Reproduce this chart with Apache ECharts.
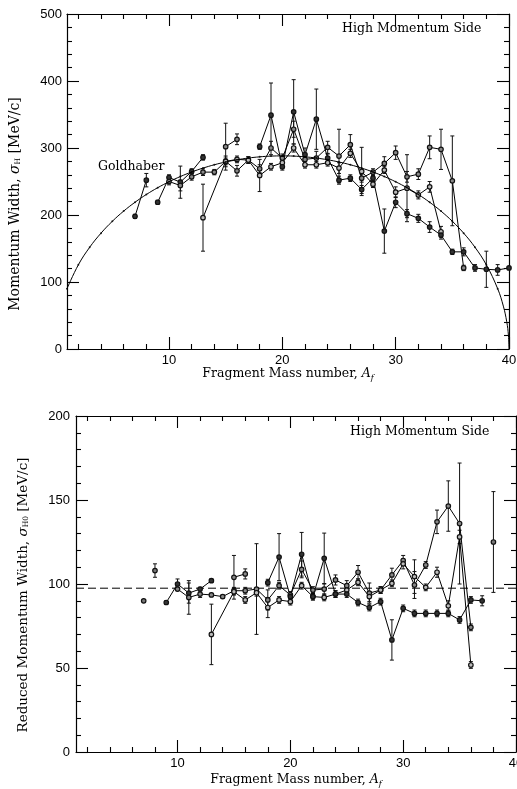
<!DOCTYPE html>
<html>
<head>
<meta charset="utf-8">
<script src="https://cdn.jsdelivr.net/npm/echarts@6/dist/echarts.min.js"></script>
<style>
  html, body { margin: 0; padding: 0; background: #fff; }
  #chart { width: 517px; height: 789px; }
</style>
</head>
<body>
<div id="chart"></div>
<script>
// ---- axis ticks ----
const xMajor = [10, 20, 30, 40];
const xMinor = [2, 4, 6, 8, 12, 14, 16, 18, 22, 24, 26, 28, 32, 34, 36, 38];

// ---- momentum width sigma_H [MeV/c] vs fragment mass number ----
const hA0 = [7, 8];
const hV0 = [198, 252];
const hE0 = [3, 10];

const hA1 = [9, 10, 11, 12, 13];
const hV1 = [219, 256, 249, 265, 286];
const hE1 = [3, 4, 24, 4, 4];

const hA2 = [10, 11, 12, 13, 14, 15, 16, 17, 18, 19, 20, 21, 22, 23, 24, 25, 26, 27, 28, 29, 30, 31, 32, 33, 34, 35, 36];
const hV2 = [250, 244, 257, 264, 264, 280, 266, 282, 269, 300, 285, 328, 283, 285, 301, 288, 305, 255, 264, 277, 293, 257, 261, 301, 298, 251, 121];
const hE2 = [5, 8, 5, 5, 4, 8, 8, 5, 6, 10, 6, 12, 6, 10, 9, 40, 15, 6, 5, 10, 10, 8, 8, 17, 30, 67, 4];

const hA3 = [13, 15, 16, 17, 18, 19, 20, 21, 22, 23, 24, 25, 26, 27, 28, 29, 30, 31, 32, 33, 34];
const hV3 = [196, 280, 283, 282, 259, 272, 278, 300, 275, 275, 278, 270, 292, 265, 246, 267, 234, 240, 230, 242, 175];
const hE3 = [50, 5, 5, 5, 24, 5, 5, 6, 5, 5, 5, 8, 6, 36, 5, 5, 8, 50, 6, 8, 8];

const hA4 = [15, 16];
const hV4 = [302, 313];
const hE4 = [35, 8];

const hA5 = [18, 19, 20, 21, 22, 23, 24, 25, 26, 27, 28, 29, 30, 31, 32, 33, 34, 35, 36, 37, 38, 39, 40];
const hV5 = [302, 349, 272, 354, 290, 343, 285, 252, 255, 238, 255, 176, 219, 202, 195, 182, 170, 145, 145, 121, 119, 118, 121];
const hE5 = [4, 48, 5, 48, 10, 45, 6, 6, 5, 6, 5, 33, 8, 6, 6, 8, 6, 4, 6, 5, 27, 8, 0];

// Goldhaber systematics for a mass-40 projectile
const goldA = [1, 2, 3, 4, 5, 6, 7, 8, 9, 10, 11, 12, 13, 14, 15, 16, 17, 18, 19, 20,
               21, 22, 23, 24, 25, 26, 27, 28, 29, 30, 31, 32, 33, 34, 35, 36, 37, 38, 39, 39.5, 39.8, 39.95, 40];
const goldV = [90, 125.6, 151.8, 172.9, 190.6, 205.8, 219.0, 230.6, 240.7, 249.6, 257.4, 264.2, 270, 275.0, 279.1, 282.4, 285.0, 286.8, 287.9, 288.2,
               287.9, 286.8, 285.0, 282.4, 279.1, 275.0, 270, 264.2, 257.4, 249.6, 240.7, 230.6, 219.0, 205.8, 190.6, 172.9, 151.8, 125.6, 90, 64.0, 40.7, 20.4, 0];

// ---- reduced momentum width sigma_H0 [MeV/c] ----
const rA0 = [7, 8, 38];
const rV0 = [90, 108, 125];
const rE0 = [0, 4, 30];

const rA1 = [9, 10, 11, 12, 13];
const rV1 = [89, 100, 94.6, 97, 102];
const rE1 = [1, 3, 6, 1, 1];

const rA2 = [10, 11, 12, 13, 14, 15, 16, 17, 18, 19, 20, 21, 22, 23, 24, 25, 26, 27, 28, 29, 30, 31, 32, 33, 34, 35, 36];
const rV2 = [97, 92, 94, 93.5, 92.5, 96, 96, 97, 90.5, 99, 93.5, 108.7, 96.4, 97, 102.4, 99, 107, 94.6, 96.4, 105.4, 114, 99.4, 111.3, 137, 146.4, 136, 74.2];
const rE2 = [1, 10, 2, 1, 1, 2, 2, 27, 6, 2, 2, 5, 2, 3, 3, 3, 4, 6, 2, 4, 3, 8, 2, 7, 15, 36, 2];

const rA3 = [13, 15, 16, 17, 18, 19, 20, 21, 22, 23, 24, 25, 26, 27, 28, 29, 30, 31, 32, 33, 34, 35, 36];
const rV3 = [70, 95.4, 90.5, 94.8, 86, 90.5, 89.5, 99, 92.5, 92, 94, 96.4, 101, 92.5, 96.4, 100.4, 112, 104.4, 98, 107, 87, 128, 51.8];
const rE3 = [18, 2, 2, 2, 6, 2, 2, 2, 2, 2, 2, 2, 2, 3, 2, 2, 3, 10, 2, 3, 3, 4, 2];

const rA4 = [15, 16];
const rV4 = [104, 106];
const rE4 = [13, 3];

const rA5 = [18, 19, 20, 21, 22, 23, 24, 25, 26, 27, 28, 29, 30, 31, 32, 33, 34, 35, 36, 37];
const rV5 = [100.8, 116, 92.5, 117.7, 92.5, 115.3, 94, 94, 89, 86, 89.5, 66.7, 85.5, 82.5, 82.5, 82.5, 82.5, 78.6, 90.5, 90];
const rE5 = [2, 14, 2, 13, 2, 15, 2, 2, 2, 2, 2, 12, 2, 2, 2, 2, 2, 2, 2, 3];

const refWidth = 97.5;

// ---- styling ----
const SERIF = '"DejaVu Serif", "Liberation Serif", serif';
const SANS = '"Liberation Sans", Arial, sans-serif';
const INK = '#000';

function xAxesFor(grid) {
  const base = { type: 'value', gridIndex: grid, min: 1, max: 40, splitLine: { show: false } };
  const tickStyle = { color: INK, width: 1.1 };
  return [
    Object.assign({}, base, {
      position: 'bottom',
      axisLine: { show: true, lineStyle: { color: INK, width: 1.2 } },
      axisTick: { show: true, inside: true, length: 12, customValues: xMajor, lineStyle: tickStyle },
      axisLabel: { show: true, customValues: xMajor, margin: 5, fontFamily: SANS, fontSize: 13, color: INK }
    }),
    Object.assign({}, base, {
      position: 'bottom',
      axisLine: { show: false },
      axisTick: { show: true, inside: true, length: 5, customValues: xMinor, lineStyle: tickStyle },
      axisLabel: { show: false }
    }),
    Object.assign({}, base, {
      position: 'top',
      axisLine: { show: true, lineStyle: { color: INK, width: 1.2 } },
      axisTick: { show: true, inside: true, length: 12, customValues: xMajor, lineStyle: tickStyle },
      axisLabel: { show: false }
    }),
    Object.assign({}, base, {
      position: 'top',
      axisLine: { show: false },
      axisTick: { show: true, inside: true, length: 5, customValues: xMinor, lineStyle: tickStyle },
      axisLabel: { show: false }
    })
  ];
}

function yAxesFor(grid, max, interval, minorSplit, margin) {
  const common = {
    type: 'value', gridIndex: grid, min: 0, max: max, interval: interval,
    axisLine: { show: true, lineStyle: { color: INK, width: 1.2 } },
    axisTick: { show: true, inside: true, length: 12, lineStyle: { color: INK, width: 1.1 } },
    minorTick: { show: true, splitNumber: minorSplit, length: 5, lineStyle: { color: INK, width: 1.1 } },
    splitLine: { show: false },
    minorSplitLine: { show: false }
  };
  return [
    Object.assign({}, common, {
      position: 'left',
      axisLabel: { show: true, margin: margin, fontFamily: SANS, fontSize: 13, color: INK }
    }),
    Object.assign({}, common, { position: 'right', axisLabel: { show: false } })
  ];
}

function pointsSeries(A, V, xi, yi, fill, joined) {
  return {
    type: 'line', xAxisIndex: xi, yAxisIndex: yi,
    data: A.map((a, i) => [a, V[i]]),
    symbol: 'circle', symbolSize: 4.5, showSymbol: true,
    itemStyle: { color: fill, borderColor: '#111', borderWidth: 1.2 },
    lineStyle: { color: INK, width: 1, opacity: joined ? 1 : 0 },
    animation: false, silent: true, z: 3
  };
}

function errorSeries(A, V, E, xi, yi) {
  return {
    type: 'custom', xAxisIndex: xi, yAxisIndex: yi,
    data: A.map((a, i) => [a, V[i], E[i]]),
    encode: { x: 0, y: 1 },
    clip: true, silent: true, animation: false, z: 2,
    renderItem: function (params, api) {
      const x = api.value(0), y = api.value(1), e = api.value(2);
      if (!e) return null;
      const lo = api.coord([x, y - e]);
      const hi = api.coord([x, y + e]);
      const w = 2;
      const st = { stroke: '#111', lineWidth: 1 };
      return {
        type: 'group',
        children: [
          { type: 'line', shape: { x1: lo[0], y1: lo[1], x2: hi[0], y2: hi[1] }, style: st },
          { type: 'line', shape: { x1: lo[0] - w, y1: lo[1], x2: lo[0] + w, y2: lo[1] }, style: st },
          { type: 'line', shape: { x1: hi[0] - w, y1: hi[1], x2: hi[0] + w, y2: hi[1] }, style: st }
        ]
      };
    }
  };
}

const topSets = [
  [hA0, hV0, hE0, '#333', true],
  [hA1, hV1, hE1, '#333', true],
  [hA2, hV2, hE2, '#888', true],
  [hA3, hV3, hE3, '#bbb', true],
  [hA4, hV4, hE4, '#888', true],
  [hA5, hV5, hE5, '#333', true]
];
const bottomSets = [
  [rA0, rV0, rE0, '#777', false],
  [rA1, rV1, rE1, '#333', true],
  [rA2, rV2, rE2, '#888', true],
  [rA3, rV3, rE3, '#bbb', true],
  [rA4, rV4, rE4, '#888', true],
  [rA5, rV5, rE5, '#333', true]
];

const series = [];
topSets.forEach(s => {
  series.push(errorSeries(s[0], s[1], s[2], 0, 0));
  series.push(pointsSeries(s[0], s[1], 0, 0, s[3], s[4]));
});
// Goldhaber curve, with small dots at the integer mass numbers
const goldPts = goldA.map((a, i) => [a, goldV[i]]);
series.push({
  type: 'line', xAxisIndex: 0, yAxisIndex: 0,
  data: goldPts,
  smooth: 0.4,
  showSymbol: false, symbol: 'none',
  lineStyle: { color: INK, width: 1 }, animation: false, silent: true, z: 4
});
series.push({
  type: 'scatter', xAxisIndex: 0, yAxisIndex: 0,
  data: goldPts.filter(p => Number.isInteger(p[0]) && p[1] > 0),
  symbol: 'circle', symbolSize: 2,
  itemStyle: { color: INK }, animation: false, silent: true, z: 4
});
bottomSets.forEach(s => {
  series.push(errorSeries(s[0], s[1], s[2], 4, 2));
  series.push(pointsSeries(s[0], s[1], 4, 2, s[3], s[4]));
});
series.push({
  type: 'line', xAxisIndex: 4, yAxisIndex: 2,
  data: [[1, refWidth], [40, refWidth]],
  symbol: 'none', lineStyle: { color: INK, width: 1, type: [8, 4] },
  animation: false, silent: true, z: 1
});

function richFor(size) {
  return {
    n: { fontFamily: SERIF, fontSize: size, color: INK, lineHeight: size + 4 },
    i: { fontFamily: SERIF, fontSize: size, fontStyle: 'italic', color: INK, lineHeight: size + 4 },
    s: { fontFamily: SERIF, fontSize: 8, fontStyle: 'italic', color: INK, padding: [7, 0, 0, 0] },
    sr: { fontFamily: SERIF, fontSize: 7.5, color: INK, padding: [7, 0, 0, 0] }
  };
}

function label(text, x, y, size, opts) {
  return {
    type: 'text', x: x, y: y, silent: true, z: 10,
    style: Object.assign({ text: text, rich: richFor(size), fill: INK, font: size + 'px ' + SERIF,
                           align: 'center', verticalAlign: 'middle' }, opts || {})
  };
}

const option = {
  backgroundColor: '#fff',
  animation: false,
  grid: [
    { left: 67, top: 14, width: 442, height: 335, outerBoundsMode: 'none', containLabel: false },
    { left: 76, top: 416, width: 440, height: 336, outerBoundsMode: 'none', containLabel: false }
  ],
  xAxis: xAxesFor(0).concat(xAxesFor(1)),
  yAxis: yAxesFor(0, 500, 100, 5, 5).concat(yAxesFor(1, 200, 50, 5, 6)),
  series: series,
  graphic: [
    label('{n|Fragment Mass number, }{i|A}{s|f}', 288, 374, 12.5),
    label('{n|Fragment Mass number, }{i|A}{s|f}', 296, 780, 12.5),
    Object.assign(label('{n|Momentum Width, }{i|σ}{sr|H}{n| [MeV/c]}', 15, 204, 14), { rotation: Math.PI / 2 }),
    Object.assign(label('{n|Reduced Momentum Width, }{i|σ}{sr|H0}{n| [MeV/c]}', 23, 595, 13.5), { rotation: Math.PI / 2 }),
    label('High Momentum Side', 342, 29, 12.5, { align: 'left' }),
    label('High Momentum Side', 350, 432, 12.5, { align: 'left' }),
    label('Goldhaber', 98, 167, 12.5, { align: 'left' })
  ]
};

const chart = echarts.init(document.getElementById('chart'), null, { renderer: 'canvas' });
chart.setOption(option);
</script>
</body>
</html>
